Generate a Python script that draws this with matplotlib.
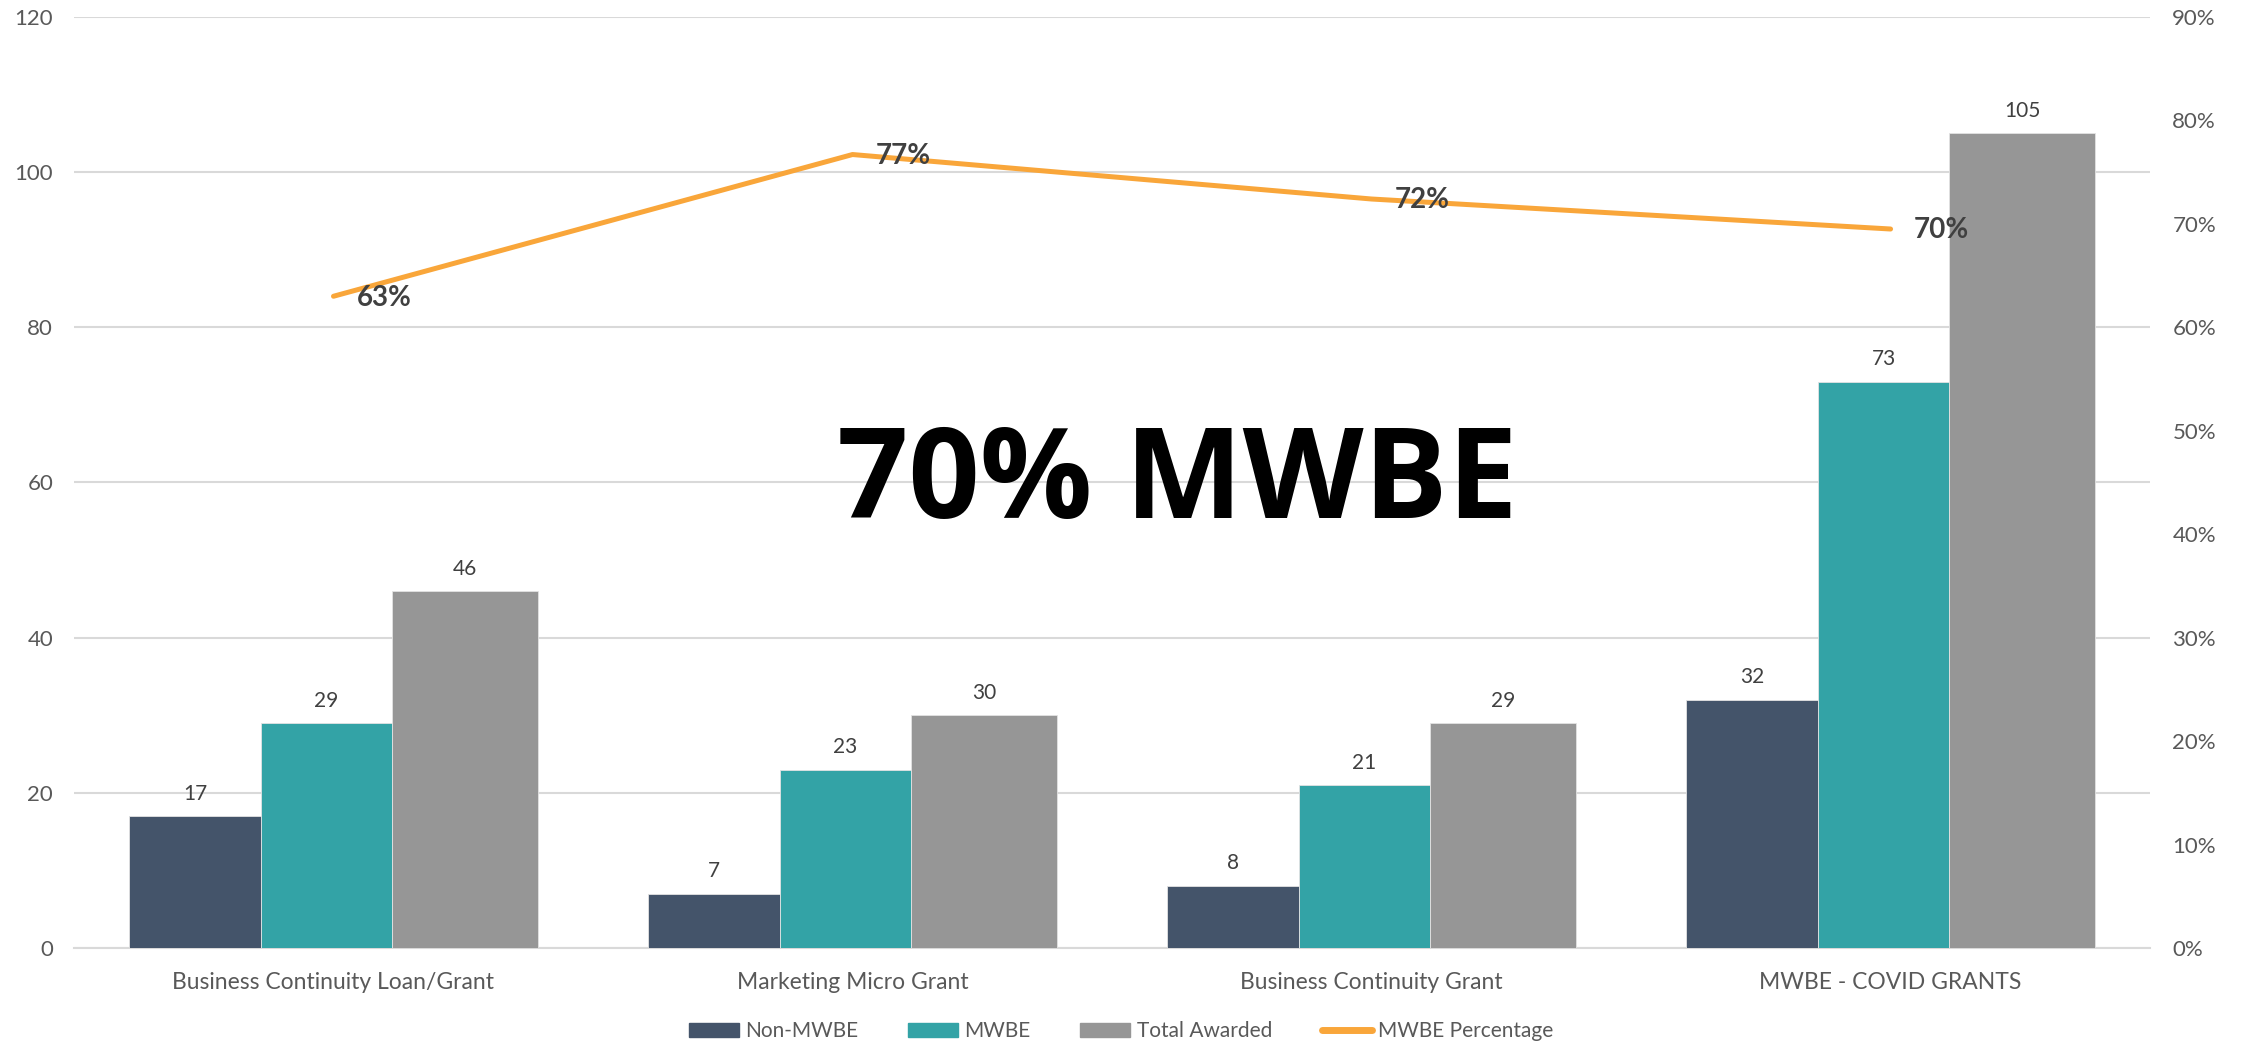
import numpy as np
import matplotlib
matplotlib.use("Agg")
import matplotlib.pyplot as plt
from matplotlib.patches import Patch
from matplotlib.lines import Line2D
from matplotlib.ticker import PercentFormatter

categories = ["Business Continuity Loan/Grant", "Marketing Micro Grant",
              "Business Continuity Grant", "MWBE - COVID GRANTS"]
non_mwbe = [17, 7, 8, 32]
mwbe = [29, 23, 21, 73]
total_awarded = [46, 30, 29, 105]
mwbe_pct = [0.63, 0.767, 0.724, 0.695]
pct_labels = ["63%", "77%", "72%", "70%"]

c_non = "#44546A"
c_mwbe = "#33A3A6"
c_total = "#969696"
c_line = "#F9A63A"
c_grid = "#D9D9D9"
c_tick = "#595959"
c_label = "#404040"

plt.rcParams['font.family'] = ['Lato', 'DejaVu Sans']

fig = plt.figure(figsize=(22.42, 10.45), dpi=100)
ax1 = fig.add_axes([0.033, 0.0928, 0.926, 0.891])
ax2 = ax1.twinx()

x = np.arange(len(categories))
# bar left edges / widths inside a category (the grey one is drawn a bit wider)
series = [(non_mwbe, c_non, -0.3935, 0.253),
          (mwbe, c_mwbe, -0.1405, 0.254),
          (total_awarded, c_total, 0.1135, 0.280)]
for vals, col, left, w in series:
    bars = ax1.bar(x + left, vals, width=w, align="edge", color=col,
                   edgecolor="#e3e3e3", linewidth=0.6, zorder=3)
    for b, v in zip(bars, vals):
        ax1.annotate(str(v), (b.get_x() + b.get_width() / 2, v),
                     xytext=(0, 9), textcoords="offset points",
                     ha="center", va="bottom", fontsize=15, color=c_label)

ax1.set_ylim(0, 120)
ax1.set_yticks(range(0, 121, 20))
ax1.set_xlim(-0.5, len(categories) - 0.5)
ax1.set_xticks(x)
ax1.set_xticklabels(categories)
ax1.grid(axis="y", color=c_grid, lw=1.5, zorder=0)
ax1.set_axisbelow(True)
for s in ["top", "left", "right"]:
    ax1.spines[s].set_visible(False)
ax1.spines["bottom"].set_color(c_grid)
ax1.spines["bottom"].set_linewidth(1.5)
ax1.tick_params(axis="y", length=0, pad=15, labelsize=16, labelcolor=c_tick)
ax1.tick_params(axis="x", length=0, pad=17, labelsize=16.5, labelcolor=c_tick)

ax2.plot(x, mwbe_pct, color=c_line, lw=3.6, solid_capstyle="round",
         solid_joinstyle="round", zorder=5)
for xi, v, t in zip(x, mwbe_pct, pct_labels):
    ax2.annotate(t, (xi, v), xytext=(17, -1), textcoords="offset points",
                 ha="left", va="center", fontsize=20, fontweight="bold",
                 color=c_label, zorder=6)
ax2.set_ylim(0, 0.9)
ax2.set_yticks(np.arange(0, 0.91, 0.1))
ax2.yaxis.set_major_formatter(PercentFormatter(1.0, decimals=0))
for s in ["top", "left", "right", "bottom"]:
    ax2.spines[s].set_visible(False)
ax2.tick_params(axis="y", length=0, pad=16, labelsize=16, labelcolor=c_tick)

fig.text(0.525, 0.536, "70% MWBE", ha="center", va="center", fontsize=90,
         fontweight="bold", color="black", family=["Open Sans", "DejaVu Sans"])

handles = [Patch(color=c_non), Patch(color=c_mwbe), Patch(color=c_total),
           Line2D([], [], color=c_line, lw=5, solid_capstyle="round")]
names = ["Non-MWBE", "MWBE", "Total Awarded", "MWBE Percentage"]
leg = fig.legend(handles, names, loc="center", bbox_to_anchor=(0.5, 0.013),
                 ncol=4, frameon=False, fontsize=15, handlelength=2.4,
                 handletextpad=0.3, columnspacing=2.4, borderpad=0)
for t in leg.get_texts():
    t.set_color(c_tick)

fig.savefig("out.png", dpi=100)
